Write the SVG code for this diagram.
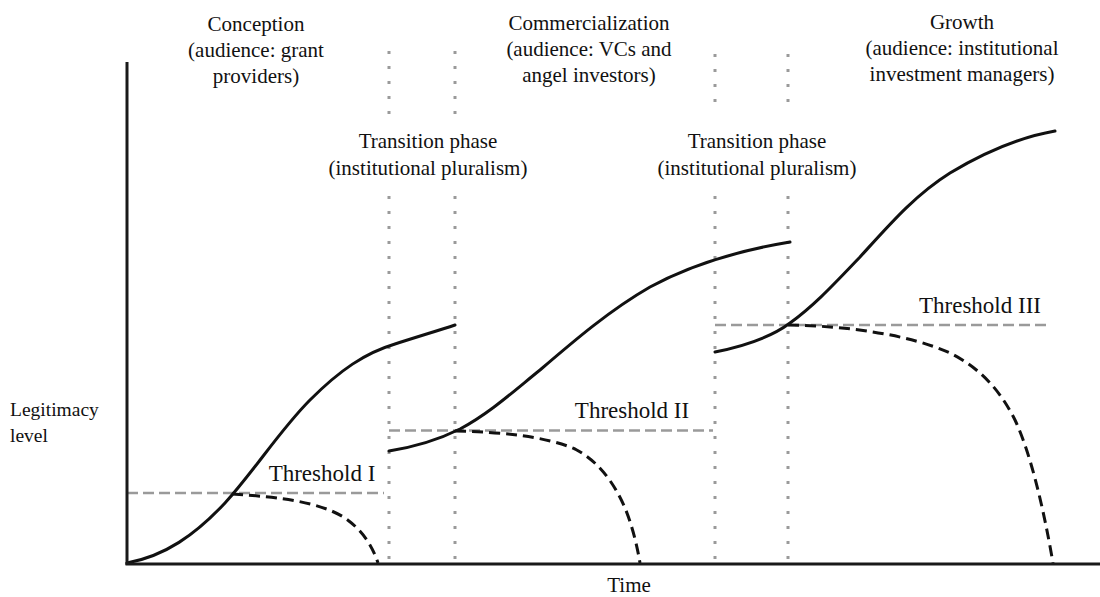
<svg xmlns="http://www.w3.org/2000/svg" width="1100" height="597" viewBox="0 0 1100 597">
  <style>
    text { font-family: 'Liberation Serif', 'DejaVu Serif', serif; fill: #111; }
    .lbl { font-size: 21px; text-anchor: middle; }
    .thr { font-size: 23px; text-anchor: middle; }
    .axis { stroke: #1a1a1a; stroke-width: 3; fill: none; }
    .curve { stroke: #111; stroke-width: 3; fill: none; stroke-linecap: round; }
    .decline { stroke: #111; stroke-width: 3; fill: none; stroke-dasharray: 11 6; }
    .threshold { stroke: #9a9a9a; stroke-width: 2.5; fill: none; stroke-dasharray: 11 5; }
    .phase { stroke: #9a9a9a; stroke-width: 3; fill: none; stroke-dasharray: 3 12; }
  </style>

  <rect width="1100" height="597" fill="#fff"/>

  <!-- phase boundaries (dotted verticals) -->
  <g id="phase-boundaries">
    <line class="phase" x1="389" y1="51" x2="389" y2="114"/>
    <line class="phase" x1="455" y1="51" x2="455" y2="114"/>
    <line class="phase" x1="715" y1="54" x2="715" y2="114"/>
    <line class="phase" x1="788" y1="54" x2="788" y2="114"/>
    <line class="phase" x1="389" y1="196" x2="389" y2="560"/>
    <line class="phase" x1="455" y1="196" x2="455" y2="560"/>
    <line class="phase" x1="715" y1="196" x2="715" y2="560"/>
    <line class="phase" x1="788" y1="196" x2="788" y2="560"/>
  </g>

  <!-- threshold levels -->
  <g id="thresholds">
    <line class="threshold" x1="127" y1="493" x2="384" y2="493"/>
    <line class="threshold" x1="389" y1="430.5" x2="713" y2="430.5"/>
    <line class="threshold" x1="715" y1="325" x2="1047" y2="325"/>
  </g>

  <!-- legitimacy curves and their decline paths -->
  <g id="connectors">
    <path class="curve" d="M127,563 C165,556 195,535 225,503 C255,470 280,430 310,400 C340,370 365,353 395,344 C420,336 440,330 455,325"/>
    <path class="curve" d="M389,451 C420,446 440,439 460,429 C490,413 515,390 540,370 C575,340 610,310 650,287 C685,268 730,252 790,242"/>
    <path class="curve" d="M715,352 C745,346 770,338 790,323 C815,305 835,283 860,257 C890,224 915,195 950,173 C980,155 1015,138 1055,131"/>
    <path class="decline" d="M232,494 C280,497 320,502 345,518 C362,530 372,545 378,563"/>
    <path class="decline" d="M455,431 C500,432 545,436 575,449 C600,462 615,485 625,508 C632,525 637,545 640,563"/>
    <path class="decline" d="M788,325 C850,326 910,335 950,353 C980,368 1000,390 1015,420 C1030,452 1043,505 1053,563"/>
  </g>

  <!-- axes -->
  <g id="axes">
    <line class="axis" x1="127" y1="62" x2="127" y2="565"/>
    <line class="axis" x1="125.5" y1="564" x2="1100" y2="564"/>
  </g>

  <g font-family="'Liberation Serif', 'DejaVu Serif', serif">
    <g id="axis-labels">
      <text x="10" y="416" font-size="19.5">Legitimacy</text>
      <text x="10" y="442" font-size="19.5">level</text>
      <text class="lbl" x="629" y="592">Time</text>
    </g>

    <g id="stage-conception">
      <text class="lbl" x="256" y="31">Conception</text>
      <text class="lbl" x="256" y="57">(audience: grant</text>
      <text class="lbl" x="256" y="83">providers)</text>
    </g>

    <g id="stage-commercialization">
      <text class="lbl" x="589" y="30">Commercialization</text>
      <text class="lbl" x="589" y="56">(audience: VCs and</text>
      <text class="lbl" x="589" y="82">angel investors)</text>
    </g>

    <g id="stage-growth">
      <text class="lbl" x="962" y="29">Growth</text>
      <text class="lbl" x="962" y="55">(audience: institutional</text>
      <text class="lbl" x="962" y="81">investment managers)</text>
    </g>

    <g id="transition-1">
      <text class="lbl" x="428" y="148">Transition phase</text>
      <text class="lbl" x="428" y="175">(institutional pluralism)</text>
    </g>

    <g id="transition-2">
      <text class="lbl" x="757" y="148">Transition phase</text>
      <text class="lbl" x="757" y="175">(institutional pluralism)</text>
    </g>

    <g id="threshold-labels">
      <text class="thr" x="322" y="481">Threshold I</text>
      <text class="thr" x="632" y="418">Threshold II</text>
      <text class="thr" x="980" y="313">Threshold III</text>
    </g>
  </g>
</svg>
